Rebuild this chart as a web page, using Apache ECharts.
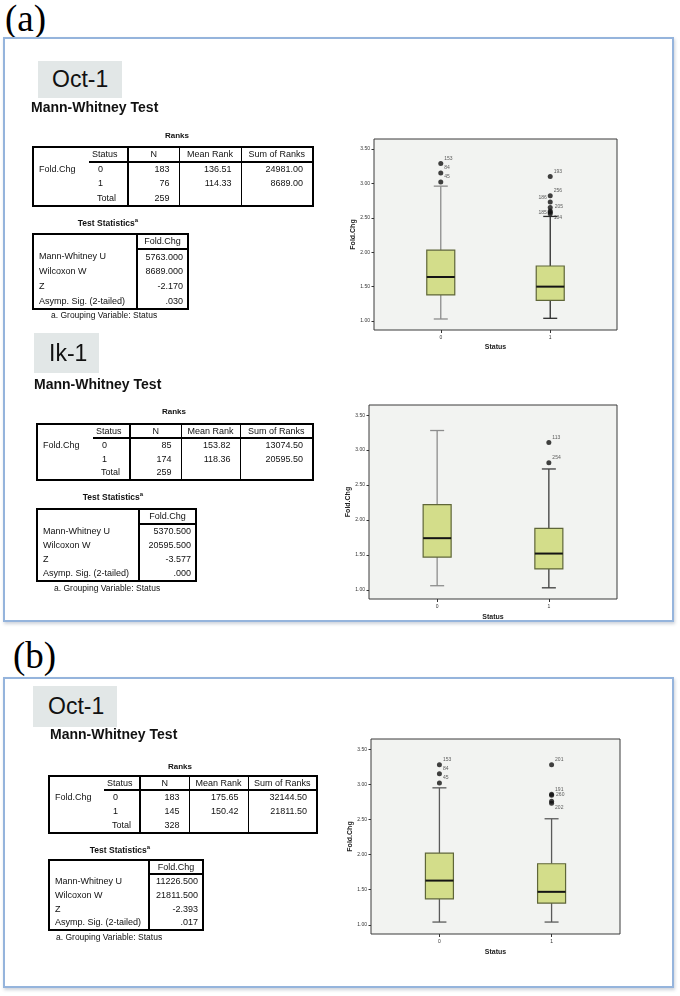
<!DOCTYPE html>
<html>
<head>
<meta charset="utf-8">
<script src="https://cdn.jsdelivr.net/npm/echarts@6/dist/echarts.min.js"></script>
<style>
  body { margin: 0; background: #fff; }
  #page { position: relative; width: 680px; height: 996px; overflow: hidden;
          font-family: "Liberation Sans", Arial, sans-serif; color: #111; }
  .panel { position: absolute; box-sizing: border-box; border: 2px solid #95b4dc;
           box-shadow: 1px 2px 3px rgba(60, 80, 110, 0.25); }
  .fig { position: absolute; font-family: "Liberation Serif", "Times New Roman", serif;
         font-size: 37px; line-height: 37px; color: #000; }
  .tag { position: absolute; background: #e2e7e7; font-size: 23px; display: flex;
         align-items: center; color: #111; }
  .mw { position: absolute; font-weight: bold; font-size: 14px; line-height: 16px; }
  .ttl { position: absolute; font-weight: bold; text-align: center; width: 200px; line-height: 12px; }
  .ttl sup { font-size: 6px; vertical-align: 4px; line-height: 0; }
  table.spss { position: absolute; border-collapse: collapse; table-layout: fixed;
               font-size: 9px; border: 2px solid #000; }
  table.spss td { padding: 0; white-space: nowrap; overflow: visible; line-height: 9px; }
  .foot { position: absolute; font-size: 8.5px; line-height: 10px; }
  #chart { position: absolute; left: 0; top: 0; width: 680px; height: 996px; }
</style>
</head>
<body>
<div id="page">
  <div class="fig" style="left:5px;top:0px">(a)</div>
  <div class="panel" style="left:3px;top:37px;width:671px;height:585px"></div>
  <div class="fig" style="left:13px;top:637px">(b)</div>
  <div class="panel" style="left:3px;top:677px;width:671px;height:311px"></div>
  <div id="chart"></div>
</div>
<script>
// ---- data ----
const statusLabels = ['0', '1'];
const yTicks = [1.0, 1.5, 2.0, 2.5, 3.0, 3.5];
const rankHeads = ['Status', 'N', 'Mean Rank', 'Sum of Ranks'];
const rankRows = ['0', '1', 'Total'];
const statNames = ['Mann-Whitney U', 'Wilcoxon W', 'Z', 'Asymp. Sig. (2-tailed)'];
const varName = 'Fold.Chg';

// Oct-1 (a)
const octA_N = [183, 76, 259];
const octA_meanRank = [136.51, 114.33];
const octA_sumRanks = [24981.00, 8689.00];
const octA_stats = [5763.000, 8689.000, -2.170, 0.030];
// [min, Q1, median, Q3, max]
const octA_box0 = [1.03, 1.38, 1.64, 2.03, 2.96];
const octA_box1 = [1.04, 1.30, 1.50, 1.80, 2.52];
const octA_outGroup = [0, 0, 0, 1, 1, 1, 1, 1, 1, 1];
const octA_outValue = [3.29, 3.15, 3.02, 3.10, 2.82, 2.73, 2.65, 2.60, 2.58, 2.56];
const octA_outId = ['153', '84', '45', '193', '256', '186', '205', '', '185', '184'];

// Ik-1 (a)
const ikA_N = [85, 174, 259];
const ikA_meanRank = [153.82, 118.36];
const ikA_sumRanks = [13074.50, 20595.50];
const ikA_stats = [5370.500, 20595.500, -3.577, 0.000];
const ikA_box0 = [1.06, 1.47, 1.74, 2.22, 3.28];
const ikA_box1 = [1.03, 1.30, 1.52, 1.88, 2.73];
const ikA_outGroup = [1, 1];
const ikA_outValue = [3.11, 2.82];
const ikA_outId = ['113', '254'];

// Oct-1 (b)
const octB_N = [183, 145, 328];
const octB_meanRank = [175.65, 150.42];
const octB_sumRanks = [32144.50, 21811.50];
const octB_stats = [11226.500, 21811.500, -2.393, 0.017];
const octB_box0 = [1.04, 1.37, 1.63, 2.02, 2.95];
const octB_box1 = [1.04, 1.31, 1.47, 1.87, 2.51];
const octB_outGroup = [0, 0, 0, 1, 1, 1, 1, 1];
const octB_outValue = [3.28, 3.15, 3.02, 3.28, 2.86, 2.845, 2.76, 2.73];
const octB_outId = ['153', '84', '45', '201', '191', '260', '', '202'];

// ---- tables (html) ----
const page = document.getElementById('page');

function fmtSig(v) { return v.toFixed(3).replace(/^0/, ''); }

function addDiv(cls, css, html) {
  const d = document.createElement('div');
  d.className = cls;
  d.style.cssText = css;
  d.innerHTML = html;
  page.appendChild(d);
  return d;
}

function makeTable(left, top, cols, rows, cells) {
  const t = document.createElement('table');
  t.className = 'spss';
  t.style.left = left + 'px';
  t.style.top = top + 'px';
  t.style.width = cols.reduce((a, b) => a + b, 0) + 'px';
  const cg = document.createElement('colgroup');
  cols.forEach(w => { const c = document.createElement('col'); c.style.width = w + 'px'; cg.appendChild(c); });
  t.appendChild(cg);
  cells.forEach((row, r) => {
    const tr = document.createElement('tr');
    tr.style.height = rows[r] + 'px';
    row.forEach(c => {
      const td = document.createElement('td');
      td.textContent = c.t;
      td.style.cssText = c.s || '';
      tr.appendChild(td);
    });
    t.appendChild(tr);
  });
  page.appendChild(t);
}

function section(L, N, meanRank, sumRanks, stats) {
  addDiv('tag', `left:${L.tag[0]}px;top:${L.tag[1]}px;width:${L.tag[2]}px;height:${L.tag[3]}px;padding-left:${L.tag[4]}px;box-sizing:border-box`, L.name);
  addDiv('mw', `left:${L.mw[0]}px;top:${L.mw[1] - 8}px`, 'Mann-Whitney Test');
  addDiv('ttl', `left:${L.rt[0] - 100}px;top:${L.rt[1] - 6}px;font-size:8px`, 'Ranks');

  const B2 = '2px solid #000', B1 = '1px solid #000';
  const head = [
    { t: '' },
    { t: rankHeads[0], s: `border-bottom:${B2};padding-left:3px` },
    { t: rankHeads[1], s: `border-bottom:${B2};border-left:${B2};text-align:center` },
    { t: rankHeads[2], s: `border-bottom:${B2};border-left:${B1};text-align:center` },
    { t: rankHeads[3], s: `border-bottom:${B2};border-left:${B1};text-align:center` }
  ];
  const body = rankRows.map((lab, i) => [
    { t: i === 0 ? varName : '', s: 'padding-left:5px' },
    { t: lab, s: i === 2 ? 'padding-left:8px' : 'padding-left:9px' },
    { t: String(N[i]), s: `border-left:${B2};text-align:right;padding-right:9px` },
    { t: i < 2 ? meanRank[i].toFixed(2) : '', s: `border-left:${B1};text-align:right;padding-right:9px` },
    { t: i < 2 ? sumRanks[i].toFixed(2) : '', s: `border-left:${B1};text-align:right;padding-right:9px` }
  ]);
  makeTable(L.rk[0], L.rk[1], L.rkCols, L.rkRows, [head].concat(body));

  addDiv('ttl', `left:${L.st[0] - 100}px;top:${L.st[1] - 6}px;font-size:8.5px`, 'Test Statistics<sup>a</sup>');
  const sHead = [{ t: '' }, { t: varName, s: `border-bottom:${B2};border-left:${B2};text-align:center` }];
  const sVals = [stats[0].toFixed(3), stats[1].toFixed(3), stats[2].toFixed(3), fmtSig(stats[3])];
  const sBody = statNames.map((n, i) => [
    { t: n, s: 'padding-left:5px' },
    { t: sVals[i], s: `border-left:${B2};text-align:right;padding-right:4px` }
  ]);
  makeTable(L.sk[0], L.sk[1], L.skCols, L.skRows, [sHead].concat(sBody));
  addDiv('foot', `left:${L.ft[0]}px;top:${L.ft[1] - 5}px`, 'a. Grouping Variable: Status');
}

section({ name: 'Oct-1', tag: [38, 61, 84, 37, 14], mw: [31, 107], rt: [177, 136],
  rk: [32, 146], rkCols: [56, 39, 51, 62, 72], rkRows: [15, 14.5, 14.5, 15],
  st: [108, 223], sk: [32, 233], skCols: [104, 51], skRows: [15, 15, 15, 15, 15], ft: [51, 315] },
  octA_N, octA_meanRank, octA_sumRanks, octA_stats);
section({ name: 'Ik-1', tag: [34, 333, 65, 40, 15], mw: [34, 384], rt: [174, 412],
  rk: [36, 423], rkCols: [56, 37, 51, 59, 73], rkRows: [14, 14, 14, 14],
  st: [113, 497], sk: [36, 508], skCols: [102, 57], skRows: [15, 14.25, 14.25, 14.25, 14.25], ft: [54, 588] },
  ikA_N, ikA_meanRank, ikA_sumRanks, ikA_stats);
section({ name: 'Oct-1', tag: [33, 686, 84, 41, 15], mw: [50, 734], rt: [180, 767],
  rk: [48, 775], rkCols: [55, 36, 49, 59, 69], rkRows: [14, 14.3, 14.3, 14.3],
  st: [120, 850], sk: [48, 859], skCols: [100, 54], skRows: [14, 14, 14, 14, 14], ft: [56, 937] },
  octB_N, octB_meanRank, octB_sumRanks, octB_stats);

// ---- box plots (echarts) ----
const chart = echarts.init(document.getElementById('chart'));

const labelPlace = {
  ur: { position: 'right', distance: 1, offset: [0, -5] },
  ul: { position: 'left', distance: 1, offset: [0, -4] },
  r:  { position: 'right', distance: 2, offset: [0, -1] },
  l:  { position: 'left', distance: 1, offset: [0, 0] },
  dr: { position: 'right', distance: 1, offset: [0, 4] }
};

const plots = [
  { frame: [374, 139, 243, 191], gapX: 13.5, gapY: 13.5, box: [octA_box0, octA_box1],
    out: [octA_outGroup, octA_outValue, octA_outId],
    place: ['ur', 'ur', 'ur', 'ur', 'ur', 'ul', 'r', '', 'l', 'dr'],
    whisker: ['#8c8c8c', '#2b2b2b'] },
  { frame: [369, 405, 248, 194], gapX: 14.5, gapY: 14.5, box: [ikA_box0, ikA_box1],
    out: [ikA_outGroup, ikA_outValue, ikA_outId],
    place: ['ur', 'ur'],
    whisker: ['#8c8c8c', '#3c3c3c'] },
  { frame: [371, 739, 249, 195], gapX: 14.5, gapY: 15.5, box: [octB_box0, octB_box1],
    out: [octB_outGroup, octB_outValue, octB_outId],
    place: ['ur', 'ur', 'ur', 'ur', 'ur', 'r', '', 'dr'],
    whisker: ['#5a5a5a', '#5a5a5a'] }
];

const nameStyle = { fontWeight: 'bold', fontSize: 7, color: '#222', fontFamily: 'Liberation Sans' };
const tickLabel = { fontSize: 5, color: '#333', fontFamily: 'Liberation Sans' };

const grids = [], xAxes = [], yAxes = [], series = [];
plots.forEach((p, i) => {
  grids.push({ left: p.frame[0], top: p.frame[1], width: p.frame[2], height: p.frame[3],
    show: true, backgroundColor: '#f2f3f1', borderColor: '#3a3a3a', borderWidth: 1 });
  xAxes.push({ type: 'value', gridIndex: i, min: -0.61, max: 1.61, position: 'bottom',
    name: 'Status', nameLocation: 'middle', nameGap: p.gapX, nameTextStyle: nameStyle,
    axisLine: { show: false, onZero: false }, splitLine: { show: false },
    axisTick: { show: true, customValues: [0, 1], length: 3, lineStyle: { color: '#333' } },
    axisLabel: Object.assign({ customValues: [0, 1], margin: 5,
      formatter: v => statusLabels[Math.round(v)] }, tickLabel) });
  yAxes.push({ type: 'value', gridIndex: i, min: 0.87, max: 3.645, position: 'left',
    name: varName, nameLocation: 'middle', nameGap: p.gapY, nameTextStyle: nameStyle,
    axisLine: { show: false, onZero: false }, splitLine: { show: false },
    axisTick: { show: true, customValues: yTicks, length: 2.5, lineStyle: { color: '#333' } },
    axisLabel: Object.assign({ customValues: yTicks, margin: 4,
      formatter: v => v.toFixed(2) }, tickLabel) });

  const wc = p.whisker;
  series.push({
    type: 'custom', xAxisIndex: i, yAxisIndex: i, silent: true,
    encode: { x: 0, y: [1, 2, 3, 4, 5] },
    data: p.box.map((b, g) => [g].concat(b)),
    renderItem: function (params, api) {
      const g = api.value(0);
      const lo = api.coord([g, api.value(1)]);
      const q1 = api.coord([g, api.value(2)]);
      const md = api.coord([g, api.value(3)]);
      const q3 = api.coord([g, api.value(4)]);
      const hi = api.coord([g, api.value(5)]);
      const hw = 14, cap = 7, cx = lo[0];
      const ws = { stroke: wc[params.dataIndex], lineWidth: 1.3 };
      return { type: 'group', children: [
        { type: 'line', shape: { x1: cx, y1: lo[1], x2: cx, y2: q1[1] }, style: ws },
        { type: 'line', shape: { x1: cx, y1: q3[1], x2: cx, y2: hi[1] }, style: ws },
        { type: 'line', shape: { x1: cx - cap, y1: lo[1], x2: cx + cap, y2: lo[1] }, style: ws },
        { type: 'line', shape: { x1: cx - cap, y1: hi[1], x2: cx + cap, y2: hi[1] }, style: ws },
        { type: 'rect', shape: { x: cx - hw, y: q3[1], width: hw * 2, height: q1[1] - q3[1] },
          style: { fill: '#d3dd8a', stroke: '#5f6638', lineWidth: 1.2 } },
        { type: 'line', shape: { x1: cx - hw, y1: md[1], x2: cx + hw, y2: md[1] },
          style: { stroke: '#141414', lineWidth: 2 } }
      ] };
    }
  });

  const [og, ov, oid] = p.out;
  series.push({
    type: 'scatter', xAxisIndex: i, yAxisIndex: i, silent: true,
    symbol: 'circle', symbolSize: 5, itemStyle: { color: '#111' },
    data: ov.map((v, k) => ({
      value: [og[k], v], name: oid[k],
      label: Object.assign({ show: oid[k] !== '', formatter: '{b}', fontSize: 5,
        color: '#333', fontFamily: 'Liberation Sans' }, labelPlace[p.place[k]] || {})
    }))
  });
});

chart.setOption({
  animation: false,
  backgroundColor: 'transparent',
  grid: grids,
  xAxis: xAxes,
  yAxis: yAxes,
  series: series
});
</script>
</body>
</html>
